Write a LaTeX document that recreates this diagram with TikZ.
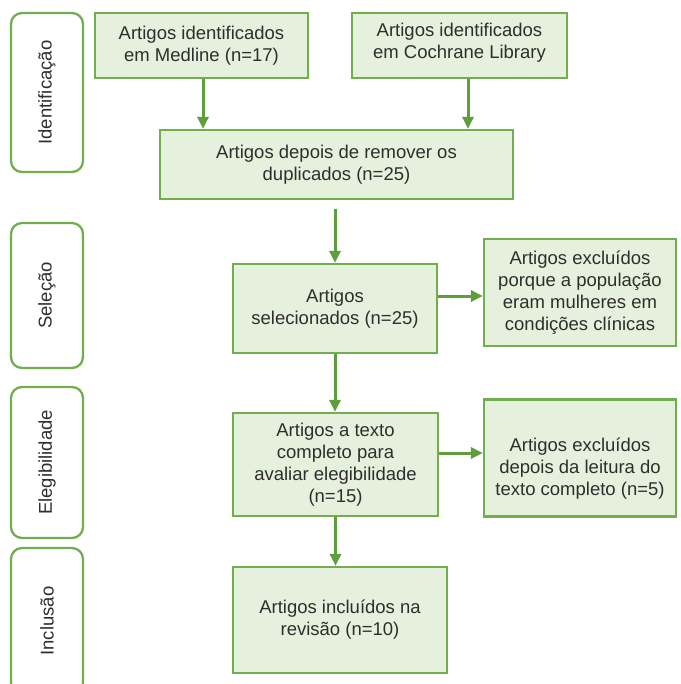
\documentclass[tikz,border=0pt]{standalone}
\usepackage{fontspec}
\setmainfont{Liberation Sans}
\usetikzlibrary{arrows.meta,calc}
\definecolor{gborder}{HTML}{72AD50}
\definecolor{gfill}{HTML}{E5F1DC}
\definecolor{garrow}{HTML}{5F9E3C}
\definecolor{txt}{HTML}{2E2E2E}
\begin{document}
\begin{tikzpicture}[x=1pt,y=-1pt,
  every node/.style={font=\fontsize{18.5pt}{22pt}\selectfont, text=txt},
  flowbox/.style={draw=gborder, line width=2.3pt, fill=gfill, align=center, inner sep=0pt},
  phasebox/.style={draw=gborder, line width=2.3pt, fill=white, rounded corners=11pt, minimum width=72pt, inner sep=0pt},
  flowarrow/.style={draw=garrow, line width=3pt, -{Triangle[length=12pt,width=11pt]}}
]
\useasboundingbox[fill=white] (0,0) rectangle (680,684);

% phase boxes
\node[phasebox, minimum height=159pt] (ph1) at (47,92.5) {};
\node[rotate=90] at (ph1.center) {Identificação};
\node[phasebox, minimum height=145pt] (ph2) at (47,295.5) {};
\node[rotate=90] at (ph2.center) {Seleção};
\node[phasebox, minimum height=151pt] (ph3) at (47,462.5) {};
\node[rotate=90] at (ph3.center) {Elegibilidade};
\node[phasebox, minimum height=146pt] (ph4) at (47,621) {};
\node[rotate=90] at (ph4.center) {Inclusão};

% flow boxes
\node[flowbox, minimum width=213pt, minimum height=65pt] (med) at (201.5,45.5) {Artigos identificados\\em Medline (n=17)};
\node[flowbox, minimum width=215pt, minimum height=65pt] (coch) at (459.5,45.5) {};
\node[align=center] at (459.5,43) {Artigos identificados\\em Cochrane Library};
\node[flowbox, minimum width=353pt, minimum height=69pt] (dup) at (336.5,164.5) {Artigos depois de remover os\\duplicados (n=25)};
\node[flowbox, minimum width=204pt, minimum height=89pt] (sel) at (335,308.5) {Artigos\\selecionados (n=25)};
\node[flowbox, minimum width=192pt, minimum height=107pt] (ex1) at (580,292.5) {Artigos excluídos\\porque a população\\eram mulheres em\\condições clínicas};
\node[flowbox, minimum width=205pt, minimum height=103pt] (txc) at (335.5,464.5) {Artigos a texto\\completo para\\avaliar elegibilidade\\(n=15)};
\node[flowbox, minimum width=192pt, minimum height=117pt] (ex2) at (580,458) {};
\node[align=center] at (580,469) {Artigos excluídos\\depois da leitura do\\texto completo (n=5)};
\node[flowbox, minimum width=214pt, minimum height=106pt] (inc) at (340,620) {Artigos incluídos na\\revisão (n=10)};

% arrows
\draw[flowarrow] ([xshift=1.5pt]med.south) -- ([xshift=1.5pt]med.south |- dup.north);
\draw[flowarrow] ([xshift=8.5pt]coch.south) -- ([xshift=8.5pt]coch.south |- dup.north);
\draw[flowarrow] ([yshift=-9pt]dup.south -| sel.north) -- (sel.north);
\draw[flowarrow] (sel.south) -- (sel.south |- txc.north);
\draw[flowarrow] (txc.south) -- (txc.south |- inc.north);
\draw[flowarrow] ([yshift=12.5pt]sel.east) -- ([yshift=12.5pt]sel.east -| ex1.west);
\draw[flowarrow] ([yshift=11.5pt]txc.east) -- ([yshift=11.5pt]txc.east -| ex2.west);
\end{tikzpicture}
\end{document}
